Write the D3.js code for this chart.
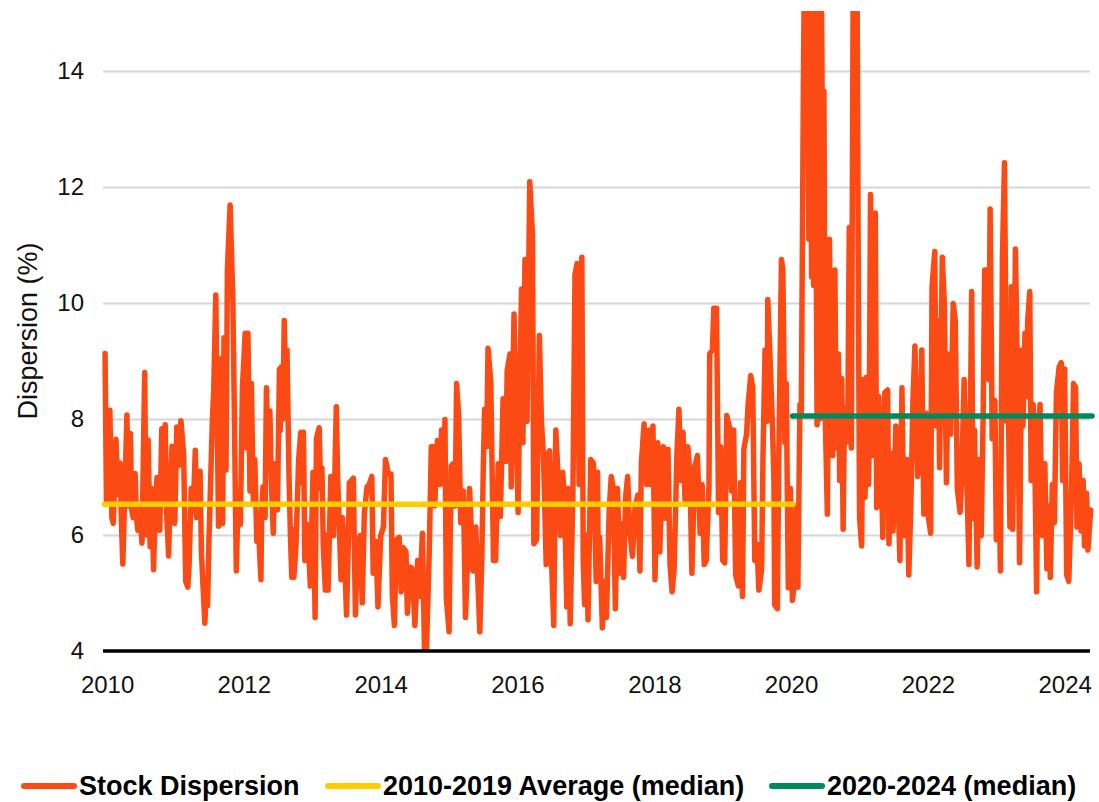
<!DOCTYPE html>
<html>
<head>
<meta charset="utf-8">
<script src="https://cdn.jsdelivr.net/npm/d3@7/dist/d3.min.js"></script>
<style>
  html, body { margin: 0; padding: 0; background: #fff; }
  svg { display: block; font-family: "Liberation Sans", Arial, sans-serif; }
</style>
</head>
<body>
<div id="chart"></div>
<script>
// [decimal year, dispersion %]
var dispersion = [
  [2009.97,9.13],[2009.99,6.6],[2010.04,8.15],[2010.07,6.3],[2010.09,6.2],[2010.13,7.65],[2010.16,6.7],[2010.19,7.24],
  [2010.21,6.2],[2010.23,5.5],[2010.26,6.8],[2010.29,8.07],[2010.31,6.5],[2010.34,7.75],[2010.36,6.44],[2010.38,6.3],
  [2010.41,7.06],[2010.43,6.3],[2010.45,6.08],[2010.48,6.5],[2010.51,5.86],[2010.55,8.8],[2010.57,6.0],[2010.60,7.64],
  [2010.63,5.8],[2010.65,6.8],[2010.68,5.4],[2010.70,6.3],[2010.73,6.99],[2010.75,6.5],[2010.77,6.08],[2010.80,7.83],
  [2010.82,6.6],[2010.85,7.9],[2010.87,6.4],[2010.90,5.64],[2010.92,6.6],[2010.95,7.53],[2010.96,6.8],[2010.99,6.2],
  [2011.02,7.86],[2011.05,7.2],[2011.08,7.97],[2011.12,7.39],[2011.15,5.2],[2011.18,5.1],[2011.20,5.5],[2011.23,6.8],
  [2011.26,6.4],[2011.29,7.46],[2011.31,6.3],[2011.34,6.6],[2011.36,7.1],[2011.38,5.7],[2011.40,5.2],[2011.43,4.48],
  [2011.45,5.0],[2011.47,4.78],[2011.49,5.9],[2011.51,6.74],[2011.54,7.97],[2011.56,8.5],[2011.59,10.14],[2011.63,6.15],
  [2011.65,7.5],[2011.68,9.05],[2011.69,6.2],[2011.71,9.4],[2011.74,7.12],[2011.76,10.57],[2011.80,11.69],[2011.84,10.02],
  [2011.86,8.25],[2011.89,5.38],[2011.92,6.76],[2011.95,6.18],[2011.98,8.54],
  [2012.02,9.48],[2012.04,7.5],[2012.06,9.48],[2012.09,6.76],[2012.11,8.61],[2012.14,6.54],[2012.16,7.3],[2012.19,5.89],
  [2012.21,6.2],[2012.25,5.23],[2012.26,6.4],[2012.28,6.83],[2012.31,6.3],[2012.33,8.54],[2012.36,7.2],[2012.38,8.14],
  [2012.40,7.0],[2012.43,6.03],[2012.45,7.23],[2012.49,6.43],[2012.52,8.86],[2012.53,7.8],[2012.55,8.9],[2012.57,8.0],
  [2012.59,9.7],[2012.61,8.6],[2012.63,9.19],[2012.66,6.98],[2012.68,6.0],[2012.70,5.27],[2012.72,6.1],[2012.73,5.27],
  [2012.76,5.78],[2012.80,7.3],[2012.83,7.77],[2012.85,6.9],[2012.87,7.77],[2012.89,5.56],[2012.93,6.18],[2012.97,5.12],
  [2013.01,7.08],[2013.04,4.58],[2013.06,7.66],[2013.10,7.85],[2013.12,6.8],[2013.14,7.16],[2013.16,5.8],[2013.19,5.05],
  [2013.21,6.0],[2013.23,5.05],[2013.27,7.01],[2013.31,5.99],[2013.35,8.21],[2013.37,7.0],[2013.38,6.65],[2013.42,5.23],
  [2013.44,6.3],[2013.46,5.99],[2013.50,4.62],[2013.53,6.03],[2013.54,6.9],[2013.57,6.94],[2013.60,6.98],[2013.63,4.62],
  [2013.66,5.85],[2013.70,5.99],[2013.73,4.83],[2013.76,6.36],[2013.80,6.83],[2013.83,6.87],[2013.87,7.01],[2013.89,5.34],
  [2013.93,5.89],[2013.96,4.76],
  [2014.00,5.99],[2014.04,6.14],[2014.07,7.3],[2014.11,7.05],[2014.15,7.05],[2014.17,4.98],[2014.20,4.44],[2014.23,5.92],
  [2014.27,5.96],[2014.30,5.02],[2014.33,5.78],[2014.37,5.71],[2014.39,4.65],[2014.43,5.45],[2014.46,5.42],[2014.50,4.44],
  [2014.54,5.56],[2014.57,4.94],[2014.61,6.03],[2014.64,4.04],[2014.67,4.04],[2014.71,5.71],[2014.74,7.52],[2014.77,7.52],
  [2014.79,6.5],[2014.83,7.63],[2014.87,6.87],[2014.89,7.81],[2014.92,7.2],[2014.94,7.99],[2014.96,4.91],
  [2015.00,4.33],[2015.03,7.19],[2015.06,7.23],[2015.09,6.5],[2015.11,8.61],[2015.14,8.06],[2015.17,6.21],[2015.21,6.76],
  [2015.24,4.58],[2015.28,5.9],[2015.30,6.8],[2015.35,5.38],[2015.39,6.14],[2015.43,4.94],[2015.45,4.33],[2015.48,5.63],
  [2015.50,7.12],[2015.52,8.17],[2015.55,7.52],[2015.57,9.22],[2015.61,8.64],[2015.65,5.56],[2015.68,5.56],[2015.72,7.23],
  [2015.75,6.32],[2015.79,8.35],[2015.83,7.27],[2015.85,8.83],[2015.89,9.12],[2015.91,6.83],[2015.95,9.81],[2015.99,7.59],
  [2016.01,6.39],[2016.04,8.83],[2016.06,10.24],[2016.08,7.59],[2016.11,10.75],[2016.14,7.96],[2016.18,12.09],[2016.22,11.18],
  [2016.24,5.85],[2016.28,5.92],[2016.32,9.44],[2016.35,7.96],[2016.38,7.37],[2016.42,5.49],[2016.45,7.41],[2016.47,7.45],
  [2016.50,5.49],[2016.53,4.44],[2016.56,7.81],[2016.59,7.08],[2016.63,5.99],[2016.66,7.08],[2016.69,6.58],[2016.72,4.76],
  [2016.74,6.8],[2016.77,4.47],[2016.81,6.76],[2016.84,10.49],[2016.87,10.68],[2016.90,6.87],[2016.94,10.79],[2016.96,5.56],
  [2016.98,4.8],
  [2017.01,6.0],[2017.03,4.54],[2017.07,7.3],[2017.11,7.23],[2017.15,5.2],[2017.17,7.08],[2017.18,5.27],[2017.20,5.96],
  [2017.24,4.4],[2017.27,5.2],[2017.30,4.58],[2017.34,6.43],[2017.37,7.01],[2017.40,6.8],[2017.43,4.73],[2017.46,6.8],
  [2017.50,5.34],[2017.52,6.2],[2017.55,5.27],[2017.58,6.65],[2017.61,7.01],[2017.64,6.07],[2017.68,5.63],[2017.72,6.5],
  [2017.76,6.69],[2017.79,5.38],[2017.81,7.23],[2017.85,7.92],[2017.89,6.87],[2017.92,7.81],[2017.95,6.87],[2017.98,7.88],
  [2018.01,5.23],[2018.05,7.59],[2018.08,5.71],[2018.10,6.5],[2018.13,7.52],[2018.16,6.29],[2018.20,7.48],[2018.23,5.49],
  [2018.26,5.02],[2018.29,5.42],[2018.33,7.37],[2018.36,8.17],[2018.39,6.94],[2018.42,7.77],[2018.45,6.58],[2018.49,7.52],
  [2018.52,7.08],[2018.55,5.34],[2018.59,7.16],[2018.63,7.37],[2018.67,6.03],[2018.70,6.87],[2018.73,5.49],[2018.76,5.56],
  [2018.80,6.87],[2018.81,9.12],[2018.85,9.19],[2018.87,9.91],[2018.91,9.91],[2018.94,6.39],[2018.97,7.52],[2019.00,5.56],
  [2019.03,5.52],[2019.06,8.06],[2019.10,7.85],[2019.13,6.76],[2019.16,7.81],[2019.19,5.31],[2019.23,5.12],[2019.26,6.9],
  [2019.29,4.94],[2019.31,7.48],[2019.35,7.74],[2019.37,8.21],[2019.41,8.75],[2019.44,8.54],[2019.47,5.56],[2019.50,5.85],
  [2019.53,5.05],[2019.57,5.42],[2019.59,7.37],[2019.62,9.19],[2019.65,7.96],[2019.66,10.06],[2019.70,8.83],[2019.73,7.81],
  [2019.75,6.94],[2019.76,4.8],[2019.80,4.73],[2019.82,7.23],[2019.86,10.75],[2019.88,10.57],[2019.91,7.59],[2019.93,8.61],
  [2019.96,5.09],[2019.99,6.8],
  [2020.02,4.87],[2020.05,5.2],[2020.08,6.5],[2020.10,5.1],[2020.13,8.25],[2020.15,8.1],[2020.18,13.7],[2020.20,16.5],
  [2020.22,13.0],[2020.24,16.5],[2020.26,11.1],[2020.28,16.0],[2020.30,10.45],[2020.32,14.0],[2020.33,10.3],[2020.35,16.0],
  [2020.37,10.28],[2020.38,7.9],[2020.40,16.0],[2020.42,8.0],[2020.44,16.0],[2020.46,12.5],[2020.48,13.65],[2020.50,8.0],
  [2020.53,6.36],[2020.56,11.1],[2020.59,7.96],[2020.61,7.37],[2020.64,10.57],[2020.66,7.5],[2020.69,9.12],[2020.71,6.94],
  [2020.74,8.7],[2020.76,6.1],[2020.78,8.2],[2020.81,7.6],[2020.83,8.25],[2020.85,11.3],[2020.88,7.5],[2020.91,16.5],
  [2020.93,14.0],[2020.96,16.5],[2020.98,10.86],
  [2021.00,6.29],[2021.03,5.81],[2021.05,8.68],[2021.08,6.65],[2021.10,8.72],[2021.13,6.87],[2021.14,7.6],[2021.16,11.87],
  [2021.20,7.37],[2021.23,11.55],[2021.25,6.47],[2021.28,8.39],[2021.31,7.52],[2021.34,5.96],[2021.37,8.46],[2021.41,8.5],
  [2021.43,5.85],[2021.46,7.41],[2021.49,6.07],[2021.53,7.88],[2021.55,7.23],[2021.59,5.56],[2021.62,8.54],[2021.65,5.99],
  [2021.69,7.3],[2021.72,5.31],[2021.75,6.5],[2021.78,8.28],[2021.81,9.26],[2021.85,7.01],[2021.88,7.52],[2021.91,9.19],
  [2021.94,6.36],[2021.98,8.1],
  [2022.01,6.29],[2022.04,6.03],[2022.06,10.28],[2022.10,10.89],[2022.12,7.88],[2022.15,9.7],[2022.17,7.16],[2022.21,10.79],
  [2022.24,9.99],[2022.27,6.9],[2022.30,9.12],[2022.33,7.74],[2022.37,9.99],[2022.40,9.7],[2022.43,6.8],[2022.47,6.39],
  [2022.49,6.87],[2022.53,8.68],[2022.56,7.37],[2022.60,5.49],[2022.64,10.2],[2022.66,6.29],[2022.68,7.81],[2022.72,5.45],
  [2022.75,7.3],[2022.78,5.99],[2022.81,8.25],[2022.83,10.57],[2022.86,10.57],[2022.89,8.68],[2022.91,11.62],[2022.94,7.66],
  [2022.98,8.32],
  [2023.00,5.92],[2023.04,7.01],[2023.06,5.38],[2023.09,10.79],[2023.12,12.42],[2023.15,7.96],[2023.17,8.83],[2023.20,6.14],
  [2023.22,10.28],[2023.24,6.1],[2023.28,10.93],[2023.32,7.96],[2023.34,5.52],[2023.37,9.19],[2023.39,7.88],[2023.42,9.48],
  [2023.44,8.39],[2023.46,9.7],[2023.49,10.2],[2023.51,6.94],[2023.54,8.25],[2023.56,7.66],[2023.59,5.02],[2023.61,7.52],
  [2023.64,8.25],[2023.67,5.99],[2023.71,7.23],[2023.74,5.42],[2023.77,6.5],[2023.79,5.27],[2023.82,6.87],[2023.85,6.21],
  [2023.88,8.46],[2023.92,8.9],[2023.95,8.97],[2023.97,6.94],
  [2024.00,8.86],[2024.03,5.31],[2024.06,5.2],[2024.10,6.72],[2024.13,8.61],[2024.16,8.54],[2024.18,6.14],[2024.21,7.23],
  [2024.24,6.07],[2024.27,6.94],[2024.29,5.81],[2024.32,6.72],[2024.34,5.74],[2024.38,6.43]
];

// median reference lines
var medianStart = [2009.96, 2020.02];
var medianEnd = [2020.03, 2024.40];
var medianValue = [6.53, 8.05];

var legendLabels = ["Stock Dispersion", "2010-2019 Average (median)", "2020-2024 (median)"];
var yTicks = [4, 6, 8, 10, 12, 14];
var xTickYears = [2010, 2012, 2014, 2016, 2018, 2020, 2022, 2024];

var colors = ['#fc4a15', '#ffcc00', '#008a5c'];

function toDate(t) {
    var y = Math.floor(t);
    var a = new Date(y, 0, 1), b = new Date(y + 1, 0, 1);
    return new Date(+a + (t - y) * (b - a));
}

(function () {
    var width = 1099, height = 802;
    var plot = {left: 103, right: 1090, top: 13, bottom: 651};

    var svg = d3.select('#chart').append('svg')
        .attr('width', width).attr('height', height);

    var x = d3.scaleTime()
        .domain([toDate(2009.94), toDate(2024.37)])
        .range([plot.left, plot.right]);
    var y = d3.scaleLinear().domain([4, 15]).range([plot.bottom, plot.top]);

    // gridlines
    svg.append('g')
        .attr('transform', 'translate(' + plot.left + ',0)')
        .call(d3.axisLeft(y).tickValues(yTicks.slice(1)).tickSize(-(plot.right - plot.left)).tickFormat(''))
        .call(function (g) { g.select('.domain').remove(); })
        .selectAll('line').attr('stroke', '#d5d5da').attr('stroke-width', 2);

    // y tick labels
    svg.append('g')
        .attr('transform', 'translate(' + plot.left + ',0)')
        .call(d3.axisLeft(y).tickValues(yTicks).tickSize(0).tickPadding(19))
        .call(function (g) { g.select('.domain').remove(); })
        .selectAll('text').attr('font-size', 24).attr('fill', '#111')
        .style('font-family', '"Liberation Sans", Arial, sans-serif');

    // x tick labels
    svg.append('g')
        .attr('transform', 'translate(0,' + plot.bottom + ')')
        .call(d3.axisBottom(x).tickValues(xTickYears.map(function (d) { return toDate(d); }))
            .tickFormat(d3.timeFormat('%Y')).tickSize(0).tickPadding(25))
        .call(function (g) { g.select('.domain').remove(); })
        .selectAll('text').attr('font-size', 24).attr('fill', '#111')
        .style('font-family', '"Liberation Sans", Arial, sans-serif');

    svg.append('text')
        .attr('transform', 'translate(37,331) rotate(-90)')
        .attr('text-anchor', 'middle')
        .attr('font-size', 27).attr('fill', '#111')
        .text('Dispersion (%)');

    svg.append('clipPath').attr('id', 'plotclip')
        .append('rect').attr('x', 90).attr('y', 11).attr('width', 1009).attr('height', 700);

    var line = d3.line()
        .x(function (d) { return x(toDate(d[0])); })
        .y(function (d) { return y(d[1]); });

    svg.append('path')
        .datum(dispersion)
        .attr('clip-path', 'url(#plotclip)')
        .attr('fill', 'none')
        .attr('stroke', colors[0])
        .attr('stroke-width', 5.5)
        .attr('stroke-linejoin', 'round')
        .attr('stroke-linecap', 'round')
        .attr('d', line);

    // baseline
    svg.append('line')
        .attr('x1', plot.left).attr('x2', plot.right)
        .attr('y1', y(4)).attr('y2', y(4))
        .attr('stroke', '#000').attr('stroke-width', 3.5);

    svg.selectAll('.median').data(medianValue).enter().append('line')
        .attr('class', 'median')
        .attr('x1', function (d, i) { return x(toDate(medianStart[i])); })
        .attr('x2', function (d, i) { return x(toDate(medianEnd[i])); })
        .attr('y1', function (d) { return y(d); })
        .attr('y2', function (d) { return y(d); })
        .attr('stroke', function (d, i) { return colors[i + 1]; })
        .attr('stroke-width', 5.5)
        .attr('stroke-linecap', 'round');

    // legend
    var legendX = [24, 328, 772];
    var legend = svg.selectAll('.legend').data(legendLabels).enter().append('g')
        .attr('class', 'legend')
        .attr('transform', function (d, i) { return 'translate(' + legendX[i] + ',786)'; });
    legend.append('line')
        .attr('x1', 0).attr('x2', 50)
        .attr('stroke', function (d, i) { return colors[i]; })
        .attr('stroke-width', 6)
        .attr('stroke-linecap', 'round');
    legend.append('text')
        .attr('x', 55).attr('y', 9)
        .attr('font-size', 27).attr('font-weight', 'bold').attr('fill', '#000')
        .text(function (d) { return d; });
})();
</script>
</body>
</html>
